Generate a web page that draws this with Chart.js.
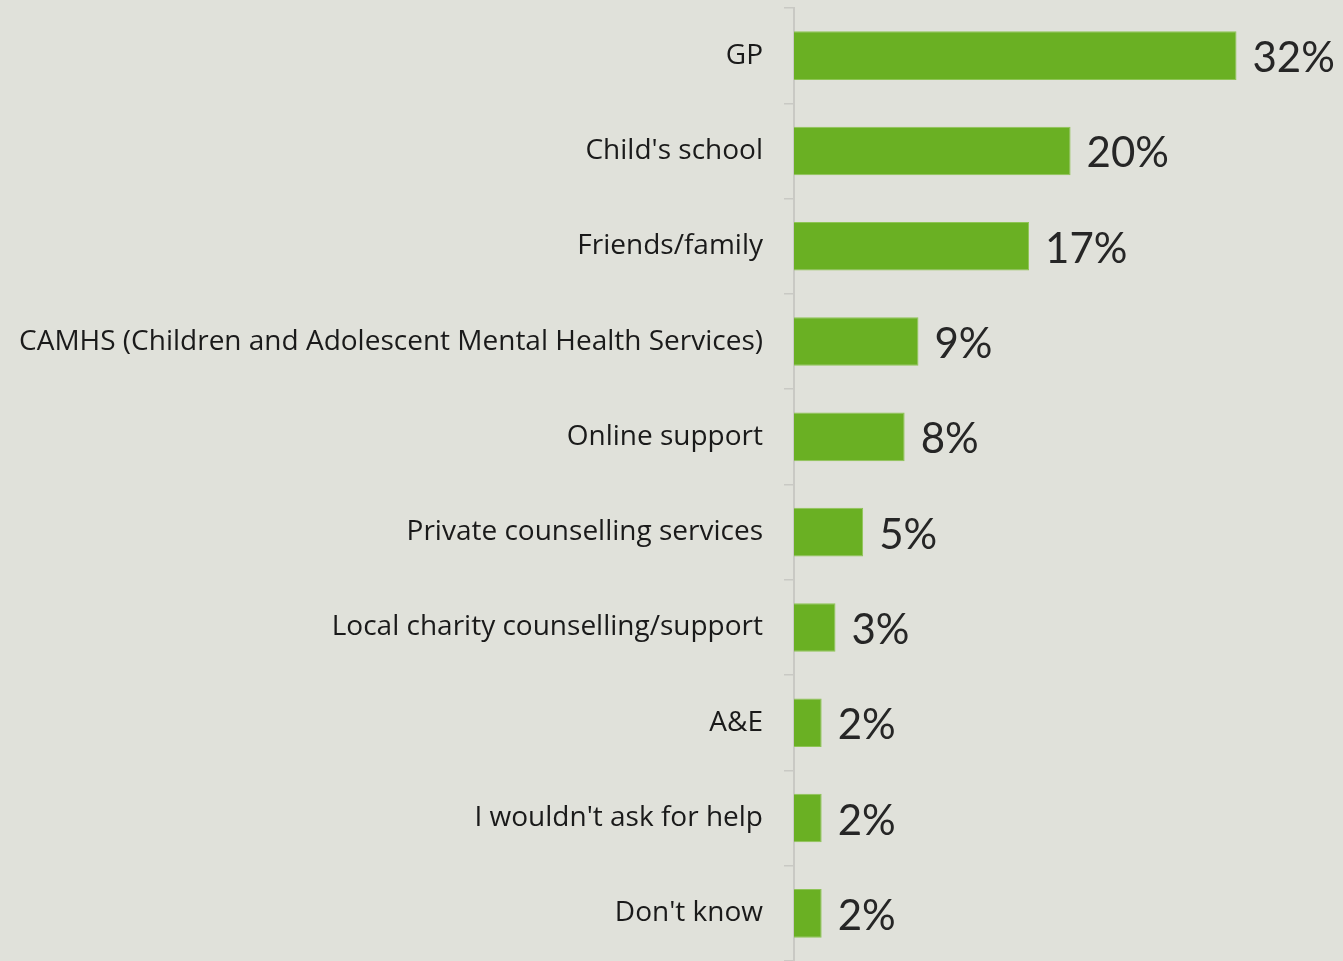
<!DOCTYPE html>
<html>
<head>
<meta charset="utf-8">
<script src="https://cdn.jsdelivr.net/npm/chart.js@4"></script>
<style>
    html, body { margin: 0; padding: 0; background: #e0e1da; overflow: hidden; }
    #wrap { width: 1343px; height: 961px; }
</style>
</head>
<body>
<div id="wrap"><canvas id="help-chart"></canvas></div>
<script>
    var categories = [
        'GP',
        "Child's school",
        'Friends/family',
        'CAMHS (Children and Adolescent Mental Health Services)',
        'Online support',
        'Private counselling services',
        'Local charity counselling/support',
        'A&E',
        "I wouldn't ask for help",
        "Don't know"
    ];
    var percentValues = [32, 20, 17, 9, 8, 5, 3, 2, 2, 2];

    // value text drawn just past the end of each bar
    var valueLabels = {
        id: 'valueLabels',
        afterDatasetsDraw: function (chart) {
            var ctx = chart.ctx;
            var meta = chart.getDatasetMeta(0);
            ctx.save();
            ctx.font = '42px Lato';
            ctx.fillStyle = '#262626';
            ctx.textAlign = 'left';
            ctx.textBaseline = 'middle';
            meta.data.forEach(function (bar, i) {
                ctx.fillText(percentValues[i] + '%', bar.x + 16, bar.y + 3);
            });
            ctx.restore();
        }
    };

    var ctx = document.getElementById('help-chart').getContext('2d');
    new Chart(ctx, {
        type: 'bar',
        data: {
            labels: categories,
            datasets: [{
                data: percentValues,
                backgroundColor: '#6ab023',
                borderColor: '#8ec455',
                borderWidth: 1,
                categoryPercentage: 1,
                barPercentage: 0.51,
            }]
        },
        plugins: [valueLabels],
        options: {
            indexAxis: 'y',
            responsive: true,
            maintainAspectRatio: false,
            animation: false,
            layout: {
                padding: { left: 0, right: 65, top: 8, bottom: -2 }
            },
            plugins: {
                legend: { display: false },
                tooltip: { enabled: false }
            },
            scales: {
                x: {
                    display: false,
                    min: 0,
                    max: 35
                },
                y: {
                    afterFit: function (scale) {
                        // fixed axis position, no extra room above/below the labels
                        scale.width = 794;
                        scale.paddingTop = 0;
                        scale.paddingBottom = 0;
                    },
                    grid: {
                        drawOnChartArea: false,
                        drawTicks: true,
                        tickLength: 10,
                        color: '#c9c9c4',
                        lineWidth: 1.5
                    },
                    border: {
                        display: true,
                        color: '#c9c9c4',
                        width: 2
                    },
                    ticks: {
                        padding: 21,
                        color: '#1a1a1a',
                        font: { family: 'Open Sans', size: 28 }
                    }
                }
            }
        }
    });
</script>
</body>
</html>
